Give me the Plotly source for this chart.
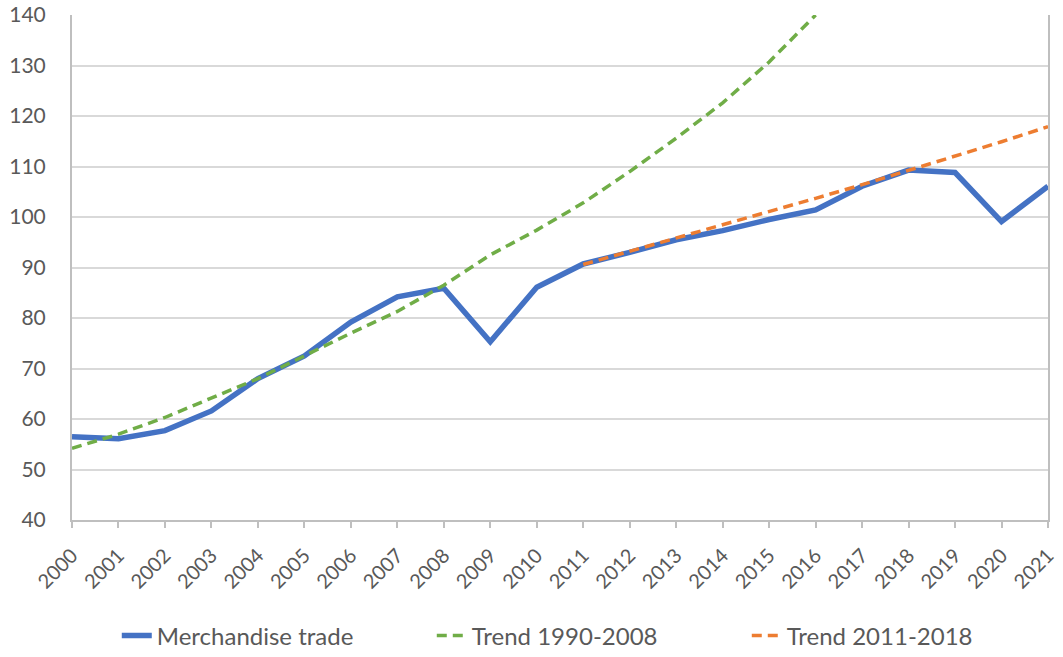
import plotly.graph_objects as go

# %% --------------------------------------------------------------------
# Data (index values)

years = list(range(2000, 2022))

merchandise_trade = [56.5, 56.1, 57.7, 61.6, 68.0, 72.5, 79.2, 84.2, 85.9, 75.3, 86.1,
                     90.7, 93.0, 95.5, 97.3, 99.5, 101.4, 106.1, 109.3, 108.8, 99.1, 106.1]

trend_years_1990 = list(range(2000, 2017))
trend_1990_2008 = [54.2, 57.0, 60.3, 64.2, 68.0, 72.5, 77.0, 81.3, 86.5, 92.5, 97.4,
                   102.8, 109.0, 115.6, 122.6, 130.7, 140.0]

trend_years_2011 = list(range(2011, 2022))
trend_2011_2018 = [90.6, 93.2, 95.8, 98.5, 101.0, 103.7, 106.4, 109.2, 112.0, 114.9, 117.9]

y_ticks = list(range(40, 141, 10))

# %% --------------------------------------------------------------------
# Figure

fig = go.Figure()

fig.add_trace(go.Scatter(
    x=years, y=merchandise_trade, mode='lines', name='Merchandise trade',
    line=dict(color='#4472C4', width=5.5)
))

fig.add_trace(go.Scatter(
    x=trend_years_1990, y=trend_1990_2008, mode='lines', name='Trend 1990-2008',
    line=dict(color='#70AD47', width=3.5, dash='10px,6px')
))

fig.add_trace(go.Scatter(
    x=trend_years_2011, y=trend_2011_2018, mode='lines', name='Trend 2011-2018',
    line=dict(color='#ED7D31', width=3.5, dash='10px,6px')
))

fig.update_layout(
    width=1063, height=657,
    plot_bgcolor='white', paper_bgcolor='white',
    margin=dict(l=72, r=15, t=15, b=137, autoexpand=False),
    font=dict(family='Lato', size=20, color='#595959'),
    legend=dict(orientation='h', x=0.53, xanchor='center',
                yref='container', y=0.032, yanchor='middle',
                font=dict(size=24), entrywidth=270),
    showlegend=True
)

fig.update_xaxes(
    range=[2000, 2021], tickmode='array', tickvals=years, ticktext=[str(y) for y in years],
    tickangle=-45, tickfont=dict(size=20), automargin=False, ticklabelstandoff=8,
    showgrid=False, showline=True, linecolor='#bfbfbf', linewidth=2,
    ticks='outside', ticklen=6, tickcolor='#bfbfbf', tickwidth=1.5, zeroline=False
)

fig.update_yaxes(
    range=[40, 140], tickvals=y_ticks, tickfont=dict(size=21), automargin=False,
    ticklabelstandoff=20,
    showgrid=True, gridcolor='#d9d9d9', gridwidth=1.5,
    showline=True, linecolor='#bfbfbf', linewidth=2, mirror=True,
    ticks='', zeroline=False
)

# drop the page's default body margin so the figure sits at the window's corner
fig.write_html("out.html", config={'displayModeBar': False},
               post_script="document.body.style.margin='0';")
